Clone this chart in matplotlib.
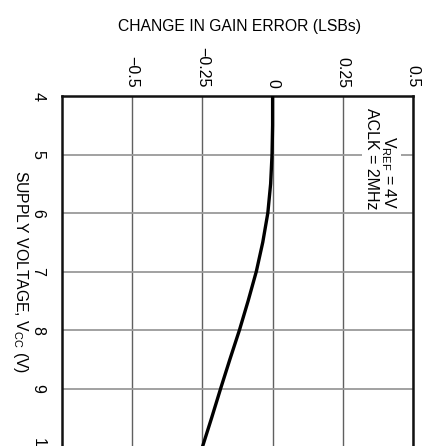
import matplotlib
matplotlib.use("Agg")
import matplotlib.pyplot as plt
from matplotlib import font_manager

# data
supply_voltage = [4.0, 4.5, 5.0, 5.5, 6.0, 6.5, 7.0, 7.5, 8.0, 8.5, 9.0, 9.5, 10.0]
gain_error_change = [0.0, 0.0, -0.002, -0.007, -0.017, -0.035, -0.058, -0.087, -0.118, -0.152, -0.185, -0.217, -0.25]
voltage_ticks = [4, 5, 6, 7, 8, 9, 10]
error_ticks = [-0.5, -0.25, 0, 0.25, 0.5]
error_tick_labels = ["\u22120.5", "\u22120.25", "0", "0.25", "0.5"]

names = {f.name for f in font_manager.fontManager.ttflist}
fam = "Liberation Sans Narrow" if "Liberation Sans Narrow" in names else "Liberation Sans"
plt.rcParams['font.family'] = [fam, 'DejaVu Sans']
plt.rcParams['mathtext.fontset'] = 'custom'
plt.rcParams['mathtext.rm'] = fam

W, H = 428, 446
fig = plt.figure(figsize=(W / 100, H / 100), dpi=100)
left, right, top, bot = 62, 413, 96, 447
ax = fig.add_axes([left / W, 1 - bot / H, (right - left) / W, (bot - top) / H])

ax.plot(gain_error_change, supply_voltage, color='black', lw=2.4, solid_capstyle='butt', zorder=3)
ax.set_xlim(-0.75, 0.5)
ax.set_ylim(10, 4)

ax.set_xticks(error_ticks)
ax.set_xticklabels(error_tick_labels, rotation=-90, va='bottom', ha='center', fontsize=11.5)
ax.xaxis.tick_top()
ax.tick_params(axis='x', length=0, pad=6)
ax.set_yticks(voltage_ticks)
ax.set_yticklabels([str(v) for v in voltage_ticks], rotation=-90, va='center', ha='right', fontsize=11.5)
ax.tick_params(axis='y', length=0, pad=12)

ax.xaxis.grid(True, color='#606060', lw=1.0)
ax.yaxis.grid(True, color='#9a9a9a', lw=1.3)
ax.set_axisbelow(True)
for s in ax.spines.values():
    s.set_linewidth(1.8)
    s.set_color('#111111')

fig.text(239 / W, 1 - 26 / H, "CHANGE IN GAIN ERROR (LSBs)", ha='center', va='center', fontsize=11.3)
fig.text(20 / W, 1 - 272 / H, "SUPPLY VOLTAGE, V$_{\\mathrm{CC}}$ (V)", rotation=-90,
         ha='center', va='center', fontsize=11.3)

ax.text(0.445, 4.2, "V$_{\\mathrm{REF}}$ = 4V\nACLK = 2MHz", rotation=-90, ha='right', va='top',
        fontsize=11.5, linespacing=0.95,
        bbox=dict(facecolor='white', edgecolor='none', pad=1.5), zorder=4)

fig.savefig("out.png", dpi=100)
